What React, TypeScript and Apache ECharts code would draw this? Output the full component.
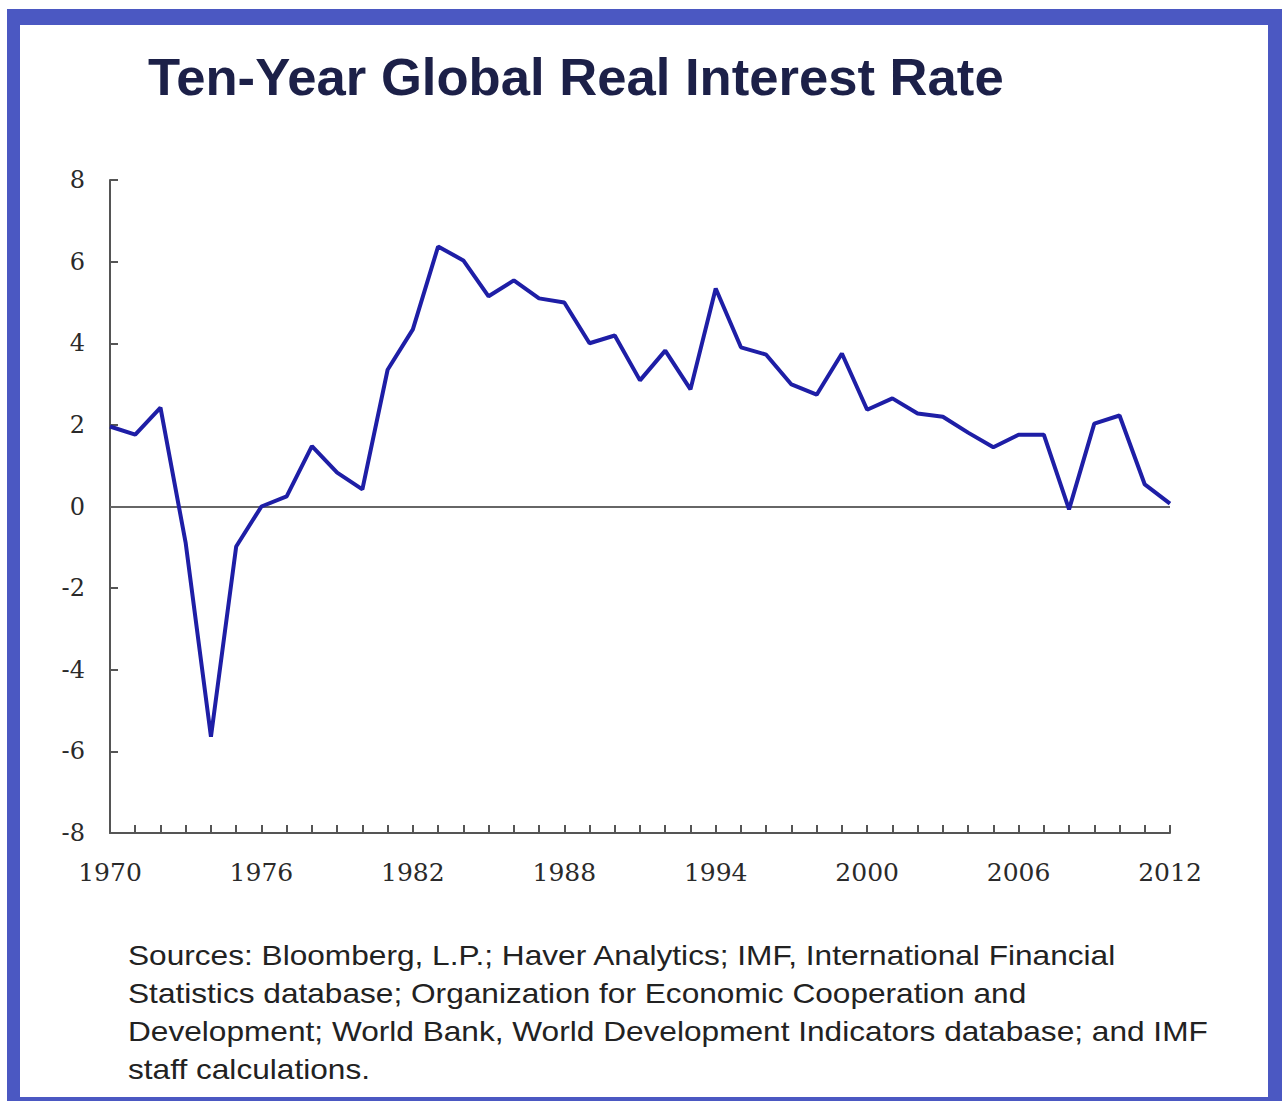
import React, { useEffect, useRef } from "react";
import * as echarts from "echarts";

const years: number[] = [
  1970, 1971, 1972, 1973, 1974, 1975, 1976, 1977, 1978, 1979,
  1980, 1981, 1982, 1983, 1984, 1985, 1986, 1987, 1988, 1989,
  1990, 1991, 1992, 1993, 1994, 1995, 1996, 1997, 1998, 1999,
  2000, 2001, 2002, 2003, 2004, 2005, 2006, 2007, 2008, 2009,
  2010, 2011, 2012,
];
const rates: number[] = [
  1.96, 1.76, 2.42, -0.9, -5.64, -0.98, 0.0, 0.25, 1.48, 0.83,
  0.42, 3.35, 4.34, 6.37, 6.03, 5.15, 5.54, 5.1, 5.0, 4.0,
  4.19, 3.09, 3.82, 2.87, 5.34, 3.9, 3.72, 2.99, 2.74, 3.75,
  2.37, 2.65, 2.28, 2.2, 1.81, 1.45, 1.76, 1.76, -0.07, 2.03,
  2.23, 0.54, 0.07,
];
const yTicks: number[] = [-8, -6, -4, -2, 0, 2, 4, 6, 8];
const xLabelYears: number[] = [1970, 1976, 1982, 1988, 1994, 2000, 2006, 2012];

const titleText = "Ten-Year Global Real Interest Rate";
const sourceLines: string[] = [
  "Sources: Bloomberg, L.P.; Haver Analytics; IMF, International Financial",
  "Statistics database; Organization for Economic Cooperation and",
  "Development; World Bank, World Development Indicators database; and IMF",
  "staff calculations.",
];

export default function App() {
  const ref = useRef<HTMLDivElement>(null);
  useEffect(() => {
    if (!ref.current) return;
    const chart = echarts.init(ref.current, undefined, { renderer: "svg" });
    const serif = "'DejaVu Serif', 'Liberation Serif', serif";
    const option: any = {
      animation: false,
      backgroundColor: "#ffffff",
      graphic: [
        {
          type: "rect",
          z: -10,
          silent: true,
          shape: { x: 7, y: 9, width: 1275, height: 1092 },
          style: { fill: "#4b58c2" },
        },
        {
          type: "rect",
          z: -9,
          silent: true,
          shape: { x: 20, y: 25, width: 1248, height: 1072 },
          style: { fill: "#ffffff" },
        },
        {
          type: "text",
          x: 148,
          y: 77,
          scaleX: 1.012,
          style: {
            text: titleText,
            font: "bold 52px 'Liberation Sans', Arial, sans-serif",
            fill: "#1c2048",
            verticalAlign: "middle",
            align: "left",
          },
        },
        ...sourceLines.map((t, i) => ({
          type: "text",
          x: 128,
          y: 955 + i * 38,
          scaleX: 1.13,
          style: {
            text: t,
            font: "28px 'Liberation Sans', Arial, sans-serif",
            fill: "#222222",
            verticalAlign: "middle",
            align: "left",
          },
        })),
      ],
      grid: { left: 110, right: 112, top: 180, bottom: 268, containLabel: false },
      xAxis: {
        type: "value",
        min: years[0],
        max: years[years.length - 1],
        interval: 1,
        axisLine: { show: true, onZero: false, lineStyle: { color: "#555555", width: 2 } },
        axisTick: { show: true, inside: true, length: 8, lineStyle: { color: "#555555", width: 2 } },
        splitLine: { show: false },
        axisLabel: {
          margin: 27,
          fontFamily: serif,
          fontSize: 25,
          color: "#2a2a2a",
          showMinLabel: true,
          showMaxLabel: true,
          formatter: (v: number) => (xLabelYears.includes(Math.round(v)) ? String(Math.round(v)) : ""),
        },
      },
      yAxis: {
        type: "value",
        min: yTicks[0],
        max: yTicks[yTicks.length - 1],
        interval: 2,
        axisLine: { show: true, lineStyle: { color: "#555555", width: 2 } },
        axisTick: { show: true, inside: true, length: 8, lineStyle: { color: "#555555", width: 2 } },
        splitLine: { show: false },
        axisLabel: {
          margin: 25,
          fontFamily: serif,
          fontSize: 24,
          color: "#2a2a2a",
        },
      },
      series: [
        {
          type: "line",
          data: years.map((y, i) => [y, rates[i]]),
          symbol: "none",
          lineStyle: { color: "#1e1ea6", width: 4 },
          z: 3,
          markLine: {
            silent: true,
            symbol: "none",
            label: { show: false },
            lineStyle: { color: "#666666", width: 2, type: "solid" },
            data: [{ yAxis: 0 }],
            z: 2,
          },
        },
      ],
    };
    chart.setOption(option);
    return () => chart.dispose();
  }, []);
  return (
    <div
      ref={ref}
      style={{ position: "absolute", left: 0, top: 0, width: 1282, height: 1101 }}
    />
  );
}
